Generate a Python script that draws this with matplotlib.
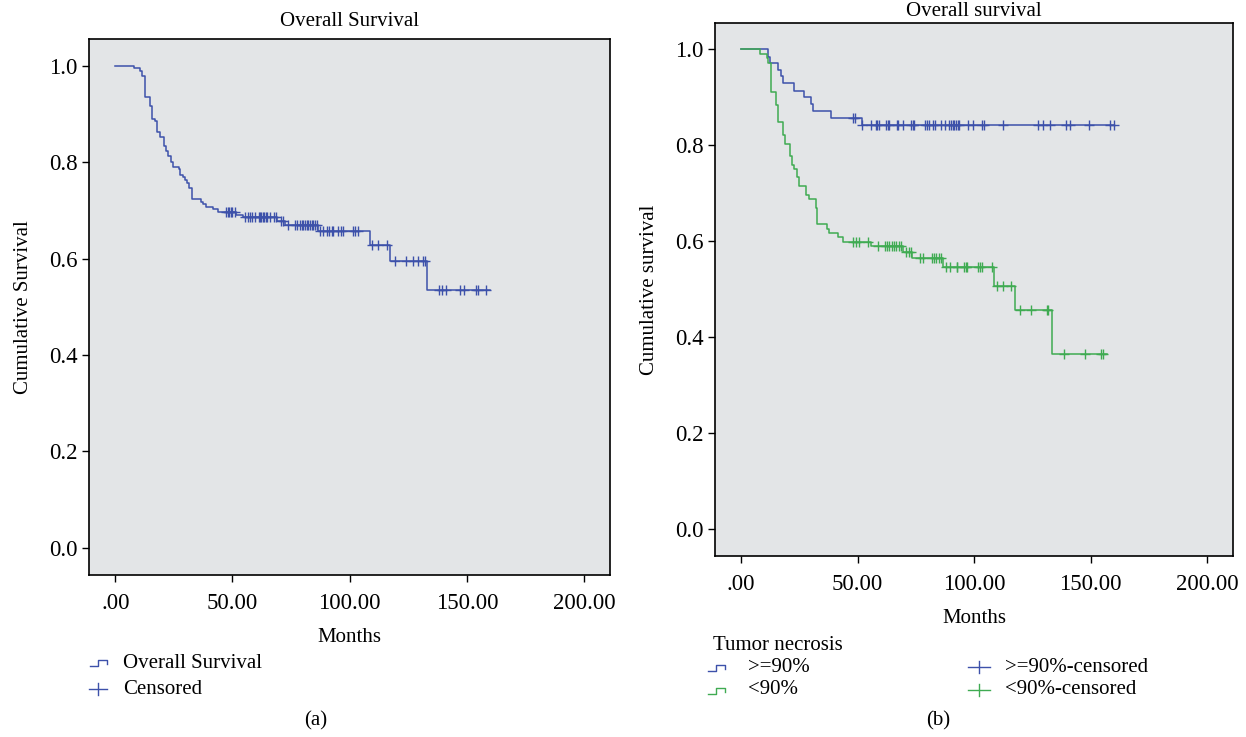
import numpy as np
import matplotlib
matplotlib.use("Agg")
import matplotlib.pyplot as plt
from matplotlib.lines import Line2D

plt.rcParams['font.family'] = ['Liberation Serif', 'DejaVu Serif']

W, H = 1246, 737

# (a) overall survival: event times (months) and survival after each event
times_a = [7.8, 10.6, 11.6, 12.8, 14.8, 15.8, 16.9, 17.9, 18.9, 20.7, 21.7, 22.7,
           23.7, 24.8, 27.0, 27.8, 29.0, 29.8, 30.8, 31.6, 32.7, 36.6, 37.6, 38.6,
           41.7, 43.7, 51.6, 54.3, 69.1, 72.6, 86.6, 108.6, 117.1, 133.1]
surv_a = [0.994, 0.989, 0.978, 0.934, 0.917, 0.890, 0.884, 0.862, 0.851, 0.834,
          0.823, 0.812, 0.801, 0.790, 0.785, 0.774, 0.768, 0.763, 0.757, 0.746,
          0.724, 0.718, 0.713, 0.707, 0.702, 0.696, 0.691, 0.686, 0.678, 0.670,
          0.658, 0.629, 0.595, 0.535]
cens_a = [47.4, 48.0, 48.6, 49.3, 50.0, 51.2,
          55.4, 56.8, 57.5, 58.2, 59.6, 61.1, 61.8, 62.2, 63.0, 63.5, 64.1, 64.7,
          66.1, 67.5, 68.7, 70.8, 71.7,
          73.8, 76.7, 77.4, 78.8, 79.5, 80.2, 80.9, 81.6, 82.3, 83.0, 83.8, 84.5,
          85.2, 85.9,
          87.3, 88.7, 90.1, 91.3, 92.3, 93.0, 95.1, 96.1, 97.2, 101.2, 102.2, 103.6,
          109.3, 112.1, 115.7, 119.3, 124.2, 127.0, 129.2, 131.3, 132.0,
          138.1, 139.4, 141.0, 147.2, 148.6, 154.0, 154.9, 158.0]
end_a = 159.7

# (b) by tumor necrosis
times_hi = [11.7, 12.6, 16.0, 16.9, 17.9, 22.7, 26.9, 29.9, 30.7, 38.7, 51.7]
surv_hi = [0.985, 0.971, 0.958, 0.944, 0.929, 0.914, 0.900, 0.886, 0.871, 0.857, 0.842]
cens_hi = [48.2, 48.9, 51.8, 55.7, 57.9, 58.5, 59.1, 62.1, 62.8, 63.5, 66.8, 67.5,
           69.3, 72.8, 73.6, 74.3, 78.9, 79.9, 80.8, 82.5, 83.2, 85.6, 87.5, 89.3,
           90.0, 90.8, 91.5, 92.2, 92.9, 93.6, 97.5, 99.4, 103.5, 104.4, 112.5,
           127.3, 129.5, 132.3, 139.4, 141.1, 149.4, 158.3, 160.0]
end_hi = 160.0

times_lo = [7.9, 11.0, 11.7, 12.9, 14.9, 15.9, 18.0, 19.0, 20.9, 22.0, 22.9, 24.0,
            25.0, 28.0, 29.0, 32.0, 32.7, 36.7, 37.7, 41.7, 43.7, 55.8, 69.4, 73.5,
            86.5, 108.5, 117.5, 133.2]
surv_lo = [0.991, 0.982, 0.972, 0.911, 0.884, 0.849, 0.821, 0.803, 0.777, 0.758,
           0.751, 0.733, 0.715, 0.697, 0.688, 0.670, 0.635, 0.626, 0.617, 0.608,
           0.599, 0.590, 0.578, 0.565, 0.547, 0.507, 0.456, 0.366]
cens_lo = [48.2, 49.3, 50.4, 54.6,
           58.9, 61.7, 62.7, 63.6, 64.9, 65.7, 66.5, 67.9, 68.5,
           70.6, 72.2, 73.0,
           76.8, 78.2, 81.7, 82.8, 83.6, 84.8, 85.6,
           87.9, 89.6, 92.5, 92.8, 95.6, 96.5, 97.1, 101.8, 102.5, 103.2, 107.5,
           109.7, 112.5, 115.7, 119.6, 124.4, 131.1, 131.8,
           138.5, 147.5, 154.2, 155.1]
end_lo = 157.1

blue = '#3d51aa'
green = '#3fab52'
bg = '#e3e5e7'
fs = 15
tfs = 16.5


def surv_at(t, times, surv):
    idx = np.searchsorted(times, t, side='right') - 1
    s = np.concatenate([[1.0], surv])
    return s[np.asarray(idx) + 1]


def km(ax, times, surv, cens, end, color):
    x = np.concatenate([[0.0], times, [end]])
    y = np.concatenate([[1.0], surv, [surv[-1]]])
    ax.step(x, y, where='post', color=color, lw=1.1)
    ax.plot(cens, surv_at(cens, times, surv), '+', color=color, ms=7, mew=1.0)


def style(ax, title, ylabel, title_pad):
    ax.set_facecolor(bg)
    ax.set_xlim(-11.2, 211.0)
    ax.set_ylim(-0.056, 1.055)
    ax.set_xticks([0, 50, 100, 150, 200])
    ax.set_xticklabels(['.00', '50.00', '100.00', '150.00', '200.00'])
    ax.set_yticks([0, 0.2, 0.4, 0.6, 0.8, 1.0])
    ax.set_yticklabels(['0.0', '0.2', '0.4', '0.6', '0.8', '1.0'])
    ax.tick_params(direction='out', length=5, width=1.0, labelsize=tfs)
    ax.tick_params(axis='x', pad=8)
    ax.tick_params(axis='y', pad=3)
    for sp in ax.spines.values():
        sp.set_linewidth(1.2)
    ax.set_title(title, fontsize=fs, pad=title_pad)
    ax.set_xlabel('Months', fontsize=fs, labelpad=10)
    ax.set_ylabel(ylabel, fontsize=fs, labelpad=12)


fig = plt.figure(figsize=(W / 100, H / 100), dpi=100)

ax1 = fig.add_axes([89 / W, 1 - 575 / H, 521 / W, 536 / H])
km(ax1, times_a, surv_a, cens_a, end_a, blue)
style(ax1, 'Overall Survival', 'Cumulative Survival', 9)

ax2 = fig.add_axes([715 / W, 1 - 556 / H, 518 / W, 533 / H])
km(ax2, times_hi, surv_hi, cens_hi, end_hi, blue)
km(ax2, times_lo, surv_lo, cens_lo, end_lo, green)
style(ax2, 'Overall survival', 'Cumulative survival', 5)


def fpt(x, y):
    return x / W, 1 - y / H


def step_icon(x0, y, color):
    xs = [x0, x0 + 8, x0 + 8, x0 + 17, x0 + 17]
    ys = [y + 3, y + 3, y - 3, y - 3, y + 1]
    pts = [fpt(a, b) for a, b in zip(xs, ys)]
    fig.add_artist(Line2D([p[0] for p in pts], [p[1] for p in pts],
                          transform=fig.transFigure, color=color, lw=1.0))


def cross_icon(x0, y, color, w=20):
    fig.add_artist(Line2D([x0 / W, (x0 + w) / W], [1 - y / H] * 2,
                          transform=fig.transFigure, color=color, lw=1.0))
    fig.add_artist(Line2D([(x0 + w / 2) / W] * 2, [1 - (y - 6) / H, 1 - (y + 6) / H],
                          transform=fig.transFigure, color=color, lw=1.0))


# legend (a)
step_icon(90, 663, blue)
fig.text(123 / W, 1 - 663 / H, 'Overall Survival', fontsize=fs, va='center')
cross_icon(89, 689, blue, 18)
fig.text(123 / W, 1 - 689 / H, 'Censored', fontsize=fs, va='center')
fig.text(316 / W, 1 - 721 / H, '(a)', fontsize=fs, ha='center', va='center')

# legend (b)
fig.text(713 / W, 1 - 645 / H, 'Tumor necrosis', fontsize=fs, va='center')
step_icon(708, 668, blue)
fig.text(748 / W, 1 - 667 / H, '>=90%', fontsize=fs, va='center')
step_icon(708, 691, green)
fig.text(748 / W, 1 - 690 / H, '<90%', fontsize=fs, va='center')
cross_icon(968, 667, blue, 22)
fig.text(1005 / W, 1 - 667 / H, '>=90%-censored', fontsize=fs, va='center')
cross_icon(968, 690, green, 22)
fig.text(1005 / W, 1 - 690 / H, '<90%-censored', fontsize=fs, va='center')
fig.text(938 / W, 1 - 721 / H, '(b)', fontsize=fs, ha='center', va='center')

fig.savefig('out.png', dpi=100, facecolor='white')
